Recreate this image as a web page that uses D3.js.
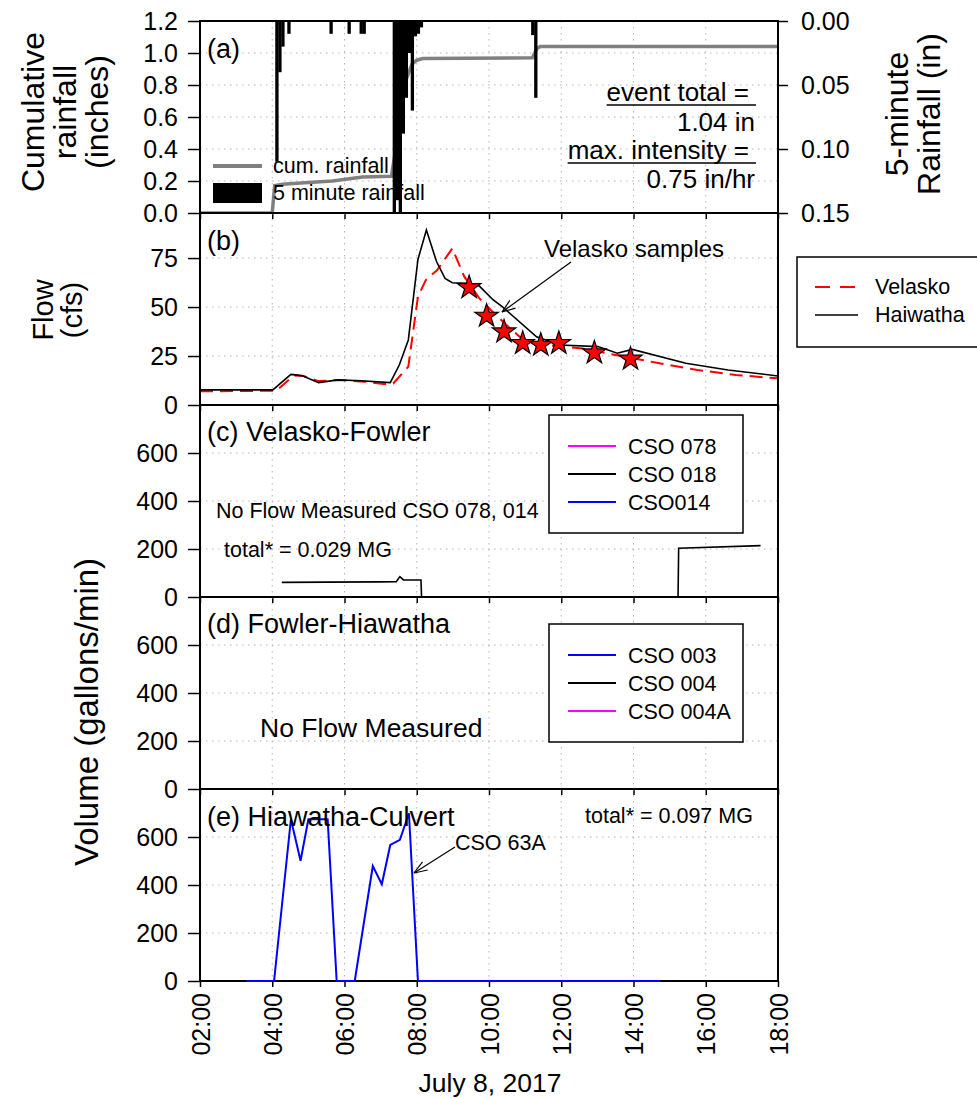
<!DOCTYPE html>
<html><head><meta charset="utf-8">
<script src="https://cdn.jsdelivr.net/npm/d3@7"></script>
<style>
body{margin:0;background:#fff}
svg{display:block;font-family:"Liberation Sans",Arial,Helvetica,sans-serif}
</style></head><body>
<svg id="chart" width="977" height="1099"></svg>
<script>
// ---- data (times on July 8, 2017) ----
const cumRainfall = [
  ["02:00",0],["04:00",0],["04:04",0.17],["04:17",0.18],["05:00",0.19],["05:40",0.20],
  ["06:30",0.225],["07:18",0.23],["07:25",0.40],["07:30",0.55],["07:35",0.70],["07:38",0.79],
  ["07:45",0.86],["07:52",0.93],["08:00",0.955],["08:10",0.965],["11:12",0.97],["11:20",1.03],
  ["11:25",1.04],["18:00",1.04]
];
const rain5min = [
  ["04:05",0.11],["04:10",0.04],["04:15",0.02],["04:25",0.01],["05:35",0.01],["06:05",0.01],
  ["06:25",0.01],["06:30",0.01],["07:20",0.16],["07:25",0.14],["07:30",0.16],["07:35",0.088],
  ["07:40",0.06],["07:45",0.025],["07:50",0.07],["07:55",0.012],["08:00",0.01],["08:05",0.005],
  ["11:10",0.011],["11:15",0.06]
];
const flowHaiwatha = [
  ["02:00",7.7],["04:01",7.7],["04:31",15.6],["04:49",15.0],["05:17",11.4],["05:49",12.8],
  ["06:27",12.4],["07:16",11.4],["07:31",20.4],["07:46",33.2],["08:02",74.3],["08:16",89.3],
  ["08:33",73.1],["08:47",64.6],["08:59",62.4],["09:25",62.1],["09:44",60.7],["10:07",53.6],
  ["10:22",50.2],["11:19",34.8],["11:58",30.6],["13:01",29.8],["13:33",26.4],["13:58",28.4],
  ["15:27",21.3],["16:37",17.9],["18:00",14.8]
];
const flowVelasko = [
  ["02:00",7.0],["04:07",7.3],["04:36",15.1],["04:52",14.8],["05:17",12.2],["05:49",12.8],
  ["06:34",11.9],["07:05",10.7],["07:21",11.0],["07:46",19.6],["08:02",55.3],["08:15",63.8],
  ["08:34",68.9],["08:59",79.9],["09:19",65.5],["09:44",54.4],["10:03",48.5],["10:29",40.8],
  ["10:54",34.0],["11:32",30.6],["12:35",28.9],["13:39",25.0],["14:43",21.3],["15:46",17.9],
  ["16:50",15.3],["18:00",13.6]
];
const velaskoSamples = [
  ["09:27",60.0],["09:56",45.4],["10:25",37.4],["10:56",31.5],["11:26",30.6],["11:56",31.5],
  ["12:55",26.7],["13:55",23.5]
];
const cso018 = [
  ["04:16",61],["05:30",62],["07:00",63],["07:26",64],["07:32",85],["07:38",71],["08:07",71],
  ["08:08",0],["15:14",0],["15:15",203],["17:31",214]
];
const cso63A = [
  ["03:17",0],["04:03",0],["04:31",674],["04:47",501],["05:00",674],["05:32",674],["05:47",0],
  ["06:17",0],["06:47",479],["07:02",403],["07:16",567],["07:32",588],["07:47",699],["08:02",0],
  ["14:45",0]
];
const timeTicks = ["02:00","04:00","06:00","08:00","10:00","12:00","14:00","16:00","18:00"];
const cumTicks = [0,0.2,0.4,0.6,0.8,1.0,1.2];
const rainTicks = [0,0.05,0.10,0.15];
const flowTicks = [0,25,50,75];
const volTicks = [0,200,400,600];
const legendC = [["CSO 078","#ff00ff"],["CSO 018","#000000"],["CSO014","#0000ff"]];
const legendD = [["CSO 003","#0000ff"],["CSO 004","#000000"],["CSO 004A","#ff00ff"]];

// ---- layout ----
const parseT = d3.timeParse("%H:%M");
const svg = d3.select("#chart");
const L = 200, R = 778;
const panels = {a:[21,213], b:[213,405], c:[405,597], d:[597,789], e:[789,981]};
const x = d3.scaleTime().domain([parseT("02:00"), parseT("18:00")]).range([L, R]);
const tickDates = timeTicks.map(parseT);

const yCum = d3.scaleLinear().domain([0,1.2]).range([panels.a[1], panels.a[0]]);
const yRain = d3.scaleLinear().domain([0,0.15]).range([panels.a[0], panels.a[1]]);
const yFlow = d3.scaleLinear().domain([0,98]).range([panels.b[1], panels.b[0]]);
const yVol = {};
["c","d","e"].forEach(k => yVol[k] = d3.scaleLinear().domain([0,800]).range([panels[k][1], panels[k][0]]));

const FONT_TICK = 25, FONT_LABEL = 27, FONT_NOTE = 21.5, FONT_TITLE = 32;

function grid(y0, y1, yScale, yTicks) {
  const g = svg.append("g").attr("stroke","#b4b4b4").attr("stroke-width",1).attr("stroke-dasharray","1.5,4.5");
  tickDates.slice(1,-1).forEach(t => g.append("line").attr("x1",x(t)).attr("x2",x(t)).attr("y1",y0).attr("y2",y1));
  yTicks.forEach(v => {
    const yy = yScale(v);
    if (yy > y0 + 1 && yy < y1 - 1) g.append("line").attr("x1",L).attr("x2",R).attr("y1",yy).attr("y2",yy);
  });
}

function frame(y0, y1, yScale, yTicks, fmt, showX) {
  // left axis
  const ax = svg.append("g").attr("transform",`translate(${L},0)`)
    .call(d3.axisLeft(yScale).tickValues(yTicks).tickFormat(fmt).tickSize(12).tickPadding(10));
  ax.select(".domain").remove();
  ax.selectAll("line").attr("stroke-width",1.5);
  ax.selectAll("text").attr("font-size",FONT_TICK).attr("font-family",null);
  // bottom axis
  const bx = svg.append("g").attr("transform",`translate(0,${y1})`)
    .call(d3.axisBottom(x).tickValues(tickDates).tickFormat(showX ? d3.timeFormat("%H:%M") : "").tickSize(6));
  bx.select(".domain").remove();
  bx.selectAll("line").attr("stroke-width",1.5);
  if (showX) {
    bx.selectAll("text").attr("font-size",FONT_TICK).attr("font-family",null)
      .attr("transform","rotate(-90)").attr("text-anchor","end")
      .attr("x",-12).attr("y",0).attr("dy","0.36em");
  }
  svg.append("rect").attr("x",L).attr("y",y0).attr("width",R-L).attr("height",y1-y0)
    .attr("fill","none").attr("stroke","#000").attr("stroke-width",2);
}

function clip(id, y0, y1) {
  svg.append("clipPath").attr("id",id).append("rect").attr("x",L).attr("y",y0).attr("width",R-L).attr("height",y1-y0);
  return `url(#${id})`;
}

function arrow(x1, y1, x2, y2) {
  const g = svg.append("g").attr("stroke","#000").attr("stroke-width",1.2).attr("fill","none");
  g.append("line").attr("x1",x1).attr("y1",y1).attr("x2",x2).attr("y2",y2);
  const ang = Math.atan2(y1 - y2, x1 - x2), len = 14, spread = 0.35;
  [ang - spread, ang + spread].forEach(a =>
    g.append("line").attr("x1",x2).attr("y1",y2).attr("x2",x2 + len*Math.cos(a)).attr("y2",y2 + len*Math.sin(a)));
}

function label(txt, px, py, size, anchor) {
  return svg.append("text").attr("x",px).attr("y",py).attr("font-size",size)
    .attr("text-anchor",anchor || "start").text(txt);
}

// ---- panel (a): rainfall ----
grid(panels.a[0], panels.a[1], yCum, cumTicks);
const clipA = clip("clipA", panels.a[0], panels.a[1]);
svg.append("path").datum(cumRainfall).attr("clip-path",clipA)
  .attr("fill","none").attr("stroke","#808080").attr("stroke-width",3.5)
  .attr("d", d3.line().x(d => x(parseT(d[0]))).y(d => yCum(d[1])));
svg.append("g").attr("clip-path",clipA).selectAll("rect").data(rain5min).join("rect")
  .attr("x", d => x(parseT(d[0])))
  .attr("width", d => x(d3.timeMinute.offset(parseT(d[0]),5)) - x(parseT(d[0])) + 0.3)
  .attr("y", yRain(0)).attr("height", d => yRain(d[1]) - yRain(0)).attr("fill","#000");
frame(panels.a[0], panels.a[1], yCum, cumTicks, d3.format(".1f"), false);
// right axis
const rx = svg.append("g").attr("transform",`translate(${R},0)`)
  .call(d3.axisRight(yRain).tickValues(rainTicks).tickFormat(d3.format(".2f")).tickSize(10).tickPadding(13));
rx.select(".domain").remove();
rx.selectAll("line").attr("stroke-width",1.5);
rx.selectAll("text").attr("font-size",FONT_TICK).attr("font-family",null);

label("(a)", 207, 58, FONT_LABEL);
// legend (a)
svg.append("line").attr("x1",213).attr("x2",262).attr("y1",166).attr("y2",166).attr("stroke","#808080").attr("stroke-width",4);
svg.append("rect").attr("x",213).attr("y",183).attr("width",49).attr("height",20).attr("fill","#000");
label("cum. rainfall", 273, 173, FONT_NOTE);
label("5 minute rainfall", 273, 200, FONT_NOTE);
// event summary
function underlined(txt, xEnd, yBase, lineEnd) {
  const t = label(txt, xEnd, yBase, 26, "end");
  const w = t.node().getComputedTextLength();
  svg.append("line").attr("x1",xEnd - w).attr("x2",lineEnd).attr("y1",yBase+4).attr("y2",yBase+4)
    .attr("stroke","#000").attr("stroke-width",1.5);
}
underlined("event total =", 749, 101, 756);
label("1.04 in", 755, 131, 26, "end");
underlined("max. intensity =", 749, 159, 756);
label("0.75 in/hr", 755, 188, 26, "end");

// ---- panel (b): flow ----
grid(panels.b[0], panels.b[1], yFlow, flowTicks);
const clipB = clip("clipB", panels.b[0], panels.b[1]);
const flowLine = d3.line().x(d => x(parseT(d[0]))).y(d => yFlow(d[1]));
svg.append("path").datum(flowVelasko).attr("clip-path",clipB).attr("fill","none")
  .attr("stroke","#ff0000").attr("stroke-width",2).attr("stroke-dasharray","13,7").attr("d",flowLine);
svg.append("path").datum(flowHaiwatha).attr("clip-path",clipB).attr("fill","none")
  .attr("stroke","#000").attr("stroke-width",1.6).attr("d",flowLine);
svg.append("g").selectAll("path").data(velaskoSamples).join("path")
  .attr("transform", d => `translate(${x(parseT(d[0]))},${yFlow(d[1])})`)
  .attr("d", d3.symbol(d3.symbolStar).size(170)())
  .attr("fill","#ff0000").attr("stroke","#000").attr("stroke-width",1.2);
frame(panels.b[0], panels.b[1], yFlow, flowTicks, d3.format("d"), false);
label("(b)", 207, 250, FONT_LABEL);
label("Velasko samples", 544, 257, 24);
arrow(571, 262, 502, 312);
// legend (b)
svg.append("rect").attr("x",797).attr("y",257).attr("width",185).attr("height",90)
  .attr("fill","#fff").attr("stroke","#000").attr("stroke-width",1.5);
svg.append("line").attr("x1",815).attr("x2",858).attr("y1",287).attr("y2",287)
  .attr("stroke","#ff0000").attr("stroke-width",2).attr("stroke-dasharray","15,10");
svg.append("line").attr("x1",815).attr("x2",858).attr("y1",315).attr("y2",315)
  .attr("stroke","#000").attr("stroke-width",1.6);
label("Velasko", 875, 294, FONT_NOTE);
label("Haiwatha", 875, 322, FONT_NOTE);

// ---- panels (c)-(e): CSO volumes ----
function legendBox(items, y0) {
  svg.append("rect").attr("x",549).attr("y",y0).attr("width",194).attr("height",118)
    .attr("fill","#fff").attr("stroke","#000").attr("stroke-width",1.5);
  items.forEach((it, i) => {
    const yy = y0 + 31 + i*28;
    svg.append("line").attr("x1",568).attr("x2",616).attr("y1",yy).attr("y2",yy).attr("stroke",it[1]).attr("stroke-width",2);
    label(it[0], 628, yy + 7.5, FONT_NOTE);
  });
}
const volLine = k => d3.line().x(d => x(parseT(d[0]))).y(d => yVol[k](d[1]));

// (c)
grid(panels.c[0], panels.c[1], yVol.c, volTicks);
svg.append("path").datum(cso018).attr("clip-path",clip("clipC",panels.c[0],panels.c[1]))
  .attr("fill","none").attr("stroke","#000").attr("stroke-width",1.6).attr("d",volLine("c"));
frame(panels.c[0], panels.c[1], yVol.c, volTicks, d3.format("d"), false);
label("(c) Velasko-Fowler", 207, 441, FONT_LABEL);
legendBox(legendC, 415);
label("No Flow Measured CSO 078, 014", 216, 518, FONT_NOTE);
label("total* = 0.029 MG", 224, 557, FONT_NOTE);

// (d)
grid(panels.d[0], panels.d[1], yVol.d, volTicks);
frame(panels.d[0], panels.d[1], yVol.d, volTicks, d3.format("d"), false);
label("(d) Fowler-Hiawatha", 207, 633, FONT_LABEL);
legendBox(legendD, 624);
label("No Flow Measured", 260, 737, 26.5);

// (e)
grid(panels.e[0], panels.e[1], yVol.e, volTicks);
frame(panels.e[0], panels.e[1], yVol.e, volTicks, d3.format("d"), true);
svg.append("path").datum(cso63A).attr("fill","none").attr("stroke","#0000ff").attr("stroke-width",2)
  .attr("d",volLine("e"));
label("(e) Hiawatha-Culvert", 207, 826, FONT_LABEL);
label("total* = 0.097 MG", 585, 823, FONT_NOTE);
label("CSO 63A", 455, 850, FONT_NOTE);
arrow(455, 847, 414, 873);

// ---- axis titles ----
function vtitle(lines, x0, step, cy, size) {
  svg.append("g").selectAll("text").data(lines).join("text")
    .attr("transform",(d,i) => `translate(${x0 + i*step},${cy}) rotate(-90)`)
    .attr("text-anchor","middle").attr("font-size",size).text(d => d);
}
vtitle(["Cumulative","rainfall","(inches)"], 44, 32, 112, FONT_TITLE);
vtitle(["Flow","(cfs)"], 53, 29, 310, 29);
vtitle(["Volume (gallons/min)"], 98, 0, 712, 33);
vtitle(["5-minute","Rainfall (in)"], 908, 32, 114, FONT_TITLE);
label("July 8, 2017", 490, 1092, 26.5, "middle");
</script>
</body></html>
